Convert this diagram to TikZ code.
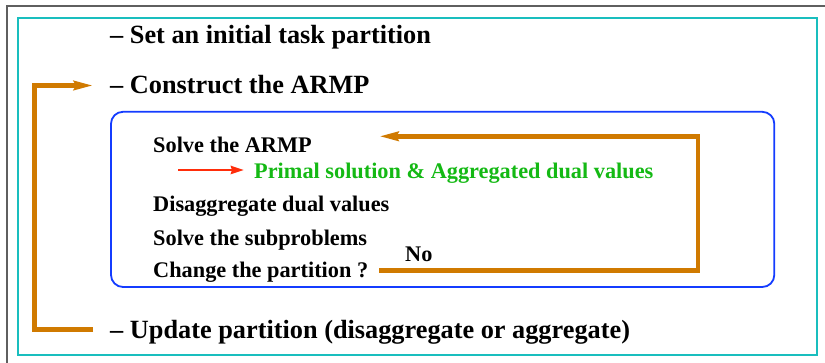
\documentclass[tikz,border=0pt]{standalone}
\usepackage{fontspec}
\setmainfont{Liberation Serif}
\usetikzlibrary{arrows.meta}
\definecolor{framegray}{RGB}{95,95,95}
\definecolor{framecyan}{RGB}{25,190,190}
\definecolor{boxblue}{RGB}{20,60,255}
\definecolor{loopor}{RGB}{208,122,0}
\definecolor{dualgreen}{RGB}{20,185,20}
\definecolor{arrred}{RGB}{255,45,10}
\tikzset{
  bigtxt/.style={inner sep=0pt, anchor=base west, font=\bfseries\fontsize{26.3}{30}\selectfont},
  smalltxt/.style={inner sep=0pt, anchor=base west, font=\bfseries\fontsize{22.3}{26}\selectfont},
  looparrow/.style={draw=loopor, line width=4.6pt, line join=miter, line cap=butt,
    -{Stealth[length=19pt, width=9pt, inset=2pt]}},
}
\begin{document}
\begin{tikzpicture}[x=1pt, y=-1pt]
\useasboundingbox (0,0) rectangle (825,363);
\fill[white] (0,0) rectangle (825,363);
% page frames
\draw[framegray, line width=2pt] (6.5,380) -- (6.5,6.5) -- (840,6.5);
\draw[framecyan, line width=2pt] (17.5,18) rectangle (816.5,355);
% inner rounded box
\draw[boxblue, line width=1.8pt, rounded corners=12pt] (111,111.8) rectangle (774.3,287);

% main steps
\node[bigtxt] (set) at (110,44) {– Set an initial task partition};
\node[bigtxt] (construct) at (110,94) {– Construct the ARMP};
\node[bigtxt] (update) at (110,339) {– Update partition (disaggregate or aggregate)};

% inner loop steps
\node[smalltxt] (solve) at (153,153) {Solve the ARMP};
\node[smalltxt, text=dualgreen] (primal) at (254,179) {Primal solution \& Aggregated dual values};
\node[smalltxt] (disagg) at (153,211.7) {Disaggregate dual values};
\node[smalltxt] (subprob) at (153,245.7) {Solve the subproblems};
\node[smalltxt] (change) at (153,278) {Change the partition ?};
\node[smalltxt] (no) at (405,262) {No};

% red arrow to the solution values
\coordinate (redstart) at (178,170);
\coordinate (redtip) at (244,170);
\draw[arrred, line width=2.8pt, -{Stealth[length=13pt, width=8pt, inset=1pt]}] (redstart) -- (redtip);

% inner "No" loop back to solving the ARMP
\coordinate (nostart) at (379.3,270.7);
\coordinate (noturn) at (697.9,136.3);
\coordinate (notip) at (379.3,136.3);
\draw[looparrow] (nostart) -| (noturn) -- (notip);

% outer loop from the partition update back to the ARMP
\coordinate (updend) at (93,329.5);
\coordinate (ocorner) at (34.5,85.5);
\coordinate (constip) at (93,85.5);
\draw[looparrow] (updend) -| (ocorner) -- (constip);
\end{tikzpicture}
\end{document}
